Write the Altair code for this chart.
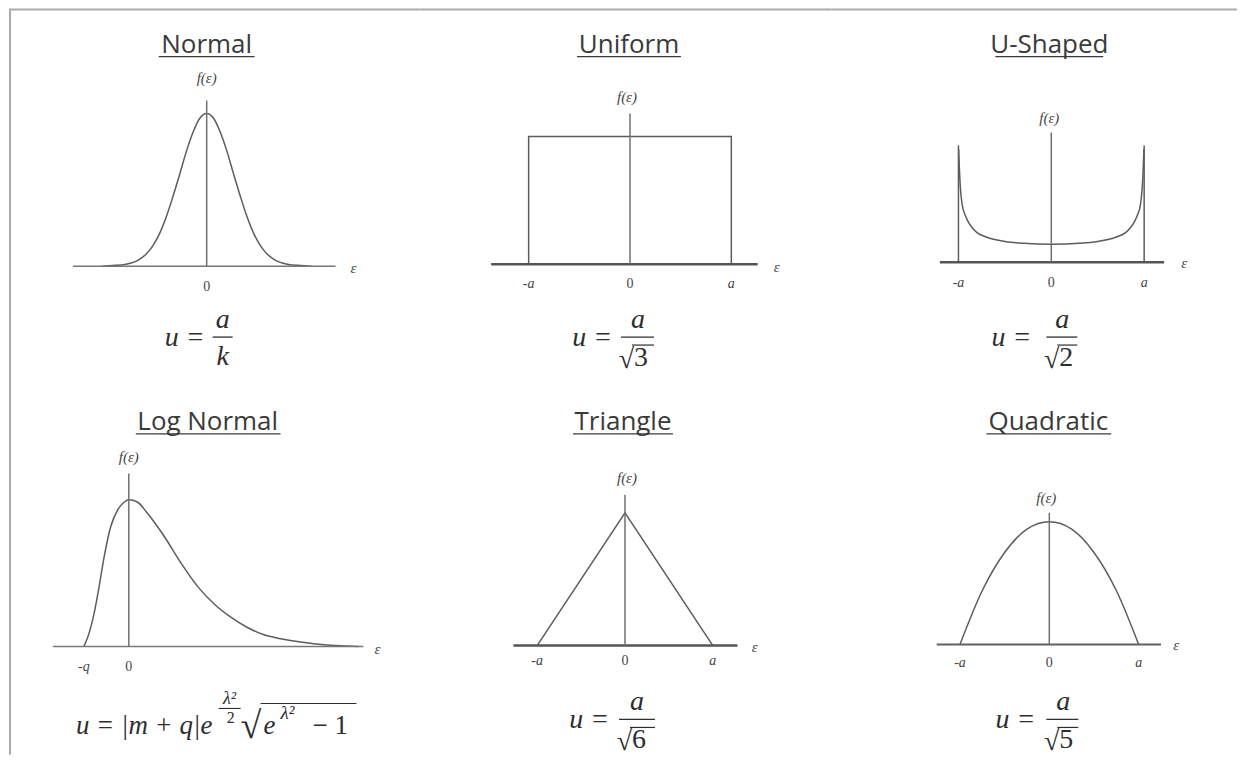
import altair as alt
import pandas as pd

# ---------------- data ----------------
titles = ["Normal", "Uniform", "U-Shaped", "Log Normal", "Triangle", "Quadratic"]

# Normal: x in sigma units, f normalised to peak
normal_x = [-3.9, -3.5, -3.0, -2.5, -2.25, -2.0, -1.75, -1.5, -1.25, -1.0, -0.75, -0.5, -0.25, 0.0,
            0.25, 0.5, 0.75, 1.0, 1.25, 1.5, 1.75, 2.0, 2.25, 2.5, 3.0, 3.5, 3.9]
normal_f = [0.0, 0.004, 0.013, 0.045, 0.08, 0.135, 0.215, 0.325, 0.46, 0.605, 0.755, 0.88, 0.97, 1.0,
            0.97, 0.88, 0.755, 0.605, 0.46, 0.325, 0.215, 0.135, 0.08, 0.045, 0.013, 0.004, 0.0]

# Uniform: x in units of a
uniform_x = [-1, -1, 1, 1]
uniform_f = [0, 1, 1, 0]

# U-shaped: x in units of a, f relative to the centre value
ushaped_x = [-0.998, -0.99, -0.98, -0.96, -0.93, -0.9, -0.85, -0.8, -0.7, -0.5, -0.3, 0.0,
             0.3, 0.5, 0.7, 0.8, 0.85, 0.9, 0.93, 0.96, 0.98, 0.99, 0.998]
ushaped_f = [6.3, 5.2, 4.2, 3.2, 2.65, 2.3, 1.9, 1.65, 1.4, 1.15, 1.05, 1.0,
             1.05, 1.15, 1.4, 1.65, 1.9, 2.3, 2.65, 3.2, 4.2, 5.2, 6.3]
ushaped_bound_top = 6.5

# Log normal: x in units of q, f normalised to peak
lognormal_x = [-1.0, -0.88, -0.77, -0.66, -0.55, -0.40, -0.25, -0.10, 0.0, 0.19, 0.41, 0.79, 1.16,
               1.53, 1.90, 2.27, 2.64, 3.01, 3.38, 3.75, 4.12, 4.49, 4.86, 5.11]
lognormal_f = [0.0, 0.095, 0.23, 0.41, 0.61, 0.82, 0.93, 0.985, 1.0, 0.985, 0.91, 0.75, 0.57,
               0.41, 0.29, 0.20, 0.13, 0.08, 0.054, 0.034, 0.02, 0.009, 0.004, 0.0]

# Triangle and quadratic: x in units of a
triangle_x = [-1, 0, 1]
triangle_f = [0, 1, 0]
quadratic_x = [-1, -0.75, -0.5, -0.25, 0, 0.25, 0.5, 0.75, 1]
quadratic_f = [0, 0.44, 0.75, 0.94, 1, 0.94, 0.75, 0.44, 0]

ticks_a = [-1, 0, 1]
ticks_a_text = ["-a", "0", "a"]
ticks_q = [-1, 0]
ticks_q_text = ["-q", "0"]

# ---------------- layout / style ----------------
COL_X = [8, 420, 832]
COL_W = [412, 412, 406]
ROW_Y = [8, 386]
ROW_H = [378, 369]

FONT_T = "Open Sans"
FONT_M = "Liberation Serif"
INK = "#2e2e2e"
LAB = "#444444"
CURVE = "#5c5c5c"
AXIS = "#707070"
BORDER = "#a9a9a9"


def build_panel(col, row, s):
    ox, oy = COL_X[col], ROW_Y[row]
    W, H = COL_W[col], ROW_H[row]
    lcx = s["cx"] - ox
    lby = s["by"] - oy
    sx, sy = s["sx"], s["sy"]
    xsc = alt.Scale(domain=[-lcx / sx, (W - lcx) / sx], nice=False, zero=False)
    ysc = alt.Scale(domain=[(lby - H) / sy, lby / sy], nice=False, zero=False)

    def X(f):
        return alt.X(f, type="quantitative", scale=xsc, axis=None)

    def Y(f):
        return alt.Y(f, type="quantitative", scale=ysc, axis=None)

    def T(text, gx, gy, size, font=FONT_M, italic=False, align="center",
          baseline="alphabetic", color=INK):
        return alt.Chart(alt.Data(values=[{"t": text}])).mark_text(
            align=align, baseline=baseline, font=font, fontSize=size,
            fontStyle="italic" if italic else "normal", color=color
        ).encode(text="t:N", x=alt.value(gx - ox), y=alt.value(gy - oy))

    def R(gx0, gx1, gy, color=INK, w=1.3):
        return alt.Chart(alt.Data(values=[{"k": 1}])).mark_rule(
            color=color, strokeWidth=w
        ).encode(x=alt.value(gx0 - ox), x2=alt.value(gx1 - ox), y=alt.value(gy - oy))

    def RV(gx, gy0, gy1, color=INK, w=1.3):
        return alt.Chart(alt.Data(values=[{"k": 1}])).mark_rule(
            color=color, strokeWidth=w
        ).encode(x=alt.value(gx - ox), y=alt.value(gy0 - oy), y2=alt.value(gy1 - oy))

    layers = []
    # borders of the whole figure
    if row == 0:
        layers.append(R(ox, ox + W, 9, color=BORDER, w=2))
    if col == 0:
        layers.append(RV(9, max(oy, 9), oy + H, color=BORDER, w=2))

    # curve
    cx_list, cf_list, interp = s["curve"]
    cdf = pd.DataFrame({"x": cx_list, "f": cf_list, "i": list(range(len(cx_list)))})
    layers.append(
        alt.Chart(cdf).mark_line(interpolate=interp, color=CURVE, strokeWidth=1.5)
        .encode(x=X("x"), y=Y("f"), order=alt.Order("i:Q"))
    )
    # bounding lines (U-shaped)
    if "bounds" in s:
        bdf = pd.DataFrame({"x": [-1, 1], "y0": [0, 0], "y1": [s["bounds"], s["bounds"]]})
        layers.append(
            alt.Chart(bdf).mark_rule(color=CURVE, strokeWidth=1.5)
            .encode(x=X("x"), y=Y("y0"), y2="y1:Q")
        )
    # horizontal axis
    hdf = pd.DataFrame({"x0": [s["hax"][0]], "x1": [s["hax"][1]], "y": [0]})
    layers.append(
        alt.Chart(hdf).mark_rule(color=s["hcol"], strokeWidth=s["hw"])
        .encode(x=X("x0"), x2="x1:Q", y=Y("y"))
    )
    # vertical axis
    vdf = pd.DataFrame({"x": [0], "y0": [0], "y1": [s["vtop"]]})
    layers.append(
        alt.Chart(vdf).mark_rule(color=AXIS, strokeWidth=1.5)
        .encode(x=X("x"), y=Y("y0"), y2="y1:Q")
    )
    # tick labels
    tpos, ttext = s["ticks"]
    zero_df = pd.DataFrame({"x": [p for p, t in zip(tpos, ttext) if t == "0"],
                            "t": [t for t in ttext if t == "0"]})
    let_df = pd.DataFrame({"x": [p for p, t in zip(tpos, ttext) if t != "0"],
                           "t": [t for t in ttext if t != "0"]})
    layers.append(
        alt.Chart(zero_df).mark_text(font=FONT_M, fontSize=14, color=LAB, baseline="middle")
        .encode(x=X("x"), y=alt.value(s["tick_y"] - oy), text="t:N")
    )
    if len(let_df):
        layers.append(
            alt.Chart(let_df).mark_text(font=FONT_M, fontSize=14, fontStyle="italic",
                                        color=LAB, baseline="middle")
            .encode(x=X("x"), y=alt.value(s["tick_y"] - oy), text="t:N")
        )
    # axis names
    layers.append(T("f(ε)", s["flab"][0], s["flab"][1], 15, italic=True, baseline="middle", color=LAB))
    layers.append(T("ε", s["elab"][0], s["elab"][1], 15, italic=True, baseline="middle", color=LAB))
    # title with underline
    tb = 52 if row == 0 else 430
    layers.append(T(s["title"], s["title_x"], tb, 26, font=FONT_T, color="#3a3a3a"))
    layers.append(R(s["ul"][0], s["ul"][1], tb + 4, color="#3a3a3a", w=1.3))
    # formula
    for piece in s["formula"](T, R):
        layers.append(piece)

    return alt.layer(*layers).properties(width=W, height=H)


def frac_formula(u_right, num_x, bar, den, sqrt, row):
    bar_y = 337 if row == 0 else 720
    def make(T, R):
        out = [
            T("u =", u_right, bar_y + 9, 28, italic=True, align="right"),
            T("a", num_x, bar_y - 9, 28, italic=True),
            R(bar[0], bar[1], bar_y, w=1.3),
        ]
        if sqrt:
            out.append(T("√", bar[0] + 13, bar_y + 31, 28, align="right"))
            out.append(T(den, bar[0] + 13, bar_y + 29, 28, align="left"))
            out.append(R(bar[0] + 11, bar[1], bar_y + 8, w=1.2))
        else:
            out.append(T(den, num_x, bar_y + 28, 28, italic=True))
        return out
    return make


def lognormal_formula(T, R):
    return [
        T("u = |m + q|e", 75, 735, 27, italic=True, align="left"),
        T("λ²", 229, 705, 18, italic=True),
        R(218, 240, 709, w=1.1),
        T("2", 230, 724, 16),
        T("√", 240, 739, 38, align="left"),
        R(260, 356, 704, w=1.2),
        T("e", 263, 735, 27, italic=True, align="left"),
        T("λ²", 280, 720, 19, italic=True, align="left"),
        T("− 1", 312, 735, 27, align="left"),
    ]


specs = [
    dict(title=titles[0], cx=206, by=266, sx=26.9, sy=153, curve=(normal_x, normal_f, "monotone"),
         hax=(-4.98, 4.80), hw=1.5, hcol="#777777", vtop=1.085, ticks=([0], ["0"]), tick_y=287,
         title_x=206, ul=(158, 254), flab=(206, 78), elab=(353, 268),
         formula=frac_formula(204, 222, (212, 232), "k", False, 0)),
    dict(title=titles[1], cx=630, by=264, sx=101.5, sy=128, curve=(uniform_x, uniform_f, "linear"),
         hax=(-1.37, 1.26), hw=2.5, hcol="#555555", vtop=1.18, ticks=(ticks_a, ticks_a_text), tick_y=284,
         title_x=629, ul=(577, 681), flab=(627, 97), elab=(777, 267),
         formula=frac_formula(612, 638, (621, 654), "3", True, 0)),
    dict(title=titles[2], cx=1052, by=262, sx=93, sy=18, curve=(ushaped_x, ushaped_f, "monotone"),
         bounds=ushaped_bound_top,
         hax=(-1.20, 1.215), hw=2.5, hcol="#555555", vtop=7.22, ticks=(ticks_a, ticks_a_text), tick_y=283,
         title_x=1050, ul=(996, 1104), flab=(1050, 118), elab=(1185, 263),
         formula=frac_formula(1032, 1063, (1047, 1078), "2", True, 0)),
    dict(title=titles[3], cx=128, by=647, sx=45, sy=147, curve=(lognormal_x, lognormal_f, "monotone"),
         hax=(-1.69, 5.22), hw=1.5, hcol="#777777", vtop=1.18, ticks=(ticks_q, ticks_q_text), tick_y=667,
         title_x=207, ul=(135, 280), flab=(128, 457), elab=(377, 649),
         formula=lognormal_formula),
    dict(title=titles[4], cx=625, by=646, sx=88, sy=133, curve=(triangle_x, triangle_f, "linear"),
         hax=(-1.27, 1.28), hw=2.5, hcol="#555555", vtop=1.135, ticks=(ticks_a, ticks_a_text), tick_y=661,
         title_x=623, ul=(573, 673), flab=(627, 478), elab=(755, 647),
         formula=frac_formula(609, 637, (619, 655), "6", True, 1)),
    dict(title=titles[5], cx=1050, by=645, sx=89.5, sy=123, curve=(quadratic_x, quadratic_f, "monotone"),
         hax=(-1.26, 1.25), hw=2, hcol="#606060", vtop=1.073, ticks=(ticks_a, ticks_a_text), tick_y=663,
         title_x=1049, ul=(987, 1112), flab=(1047, 498), elab=(1177, 645),
         formula=frac_formula(1036, 1064, (1047, 1079), "5", True, 1)),
]

panels = [build_panel(i % 3, i // 3, s) for i, s in enumerate(specs)]

chart = (
    alt.concat(*panels, columns=3, spacing=0, bounds="flush")
    .properties(padding=0, background="white")
    .configure_view(stroke=None)
)

chart.save("out.html", embed_options={"renderer": "svg", "actions": False})
